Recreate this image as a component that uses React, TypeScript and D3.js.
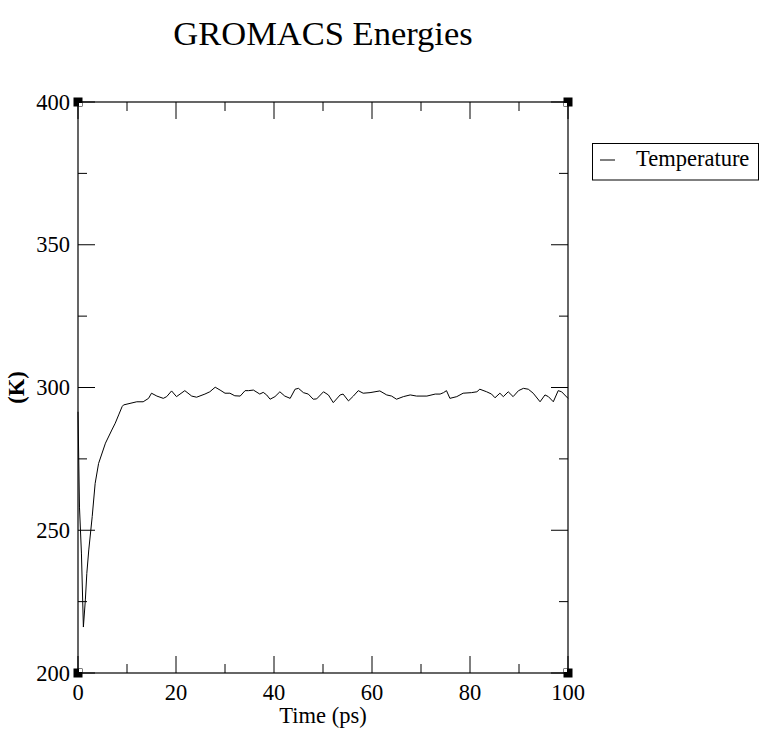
import React from "react";
import * as d3 from "d3";

const times = [
  0, 0.3, 0.7, 1.1, 1.5, 1.8, 2.2, 2.9, 3.5, 4.2, 5.6, 6.9, 7.6, 8.3, 9.0, 9.3,
  12.0, 13.3, 14.4, 15.0, 16.1, 17.4, 18.1, 19.1, 20.1, 21.8, 23.2, 24.2, 25.9,
  26.9, 28.0, 29.0, 30.0, 31.0, 32.0, 33.1, 34.1, 34.8, 35.8, 37.1, 37.8, 38.5,
  39.2, 40.2, 41.2, 42.2, 43.3, 44.3, 45.0, 46.0, 47.0, 48.0, 48.7, 50.1, 51.1,
  52.1, 53.5, 54.1, 55.2, 56.2, 57.2, 58.2, 59.6, 61.6, 63.0, 64.0, 65.0, 66.4,
  67.8, 69.1, 71.2, 72.9, 73.9, 74.6, 75.2, 75.9, 77.3, 78.6, 80.3, 81.4, 82.0,
  83.4, 84.4, 85.1, 86.1, 86.8, 87.8, 88.8, 89.9, 90.9, 91.9, 92.9, 94.3, 95.3,
  96.0, 97.0, 98.0, 98.7, 100,
];

const temperature = [
  291.5, 258.1, 242.0, 216.1, 225.6, 234.9, 243.1, 254.8, 266.4, 273.4, 280.5,
  285.1, 287.5, 290.4, 293.3, 293.9, 295.0, 295.0, 296.2, 298.0, 297.0, 296.2,
  296.8, 298.8, 296.8, 298.9, 297.0, 296.6, 297.7, 298.5, 300.1, 299.1, 298.0,
  298.0, 297.1, 297.0, 298.9, 298.9, 299.1, 297.7, 298.3, 297.4, 295.9, 296.8,
  298.5, 297.0, 296.2, 299.4, 299.7, 298.2, 297.7, 295.9, 296.0, 298.5, 297.4,
  294.7, 297.4, 297.7, 295.3, 297.0, 298.9, 298.0, 298.2, 298.8, 297.4, 297.0,
  295.9, 296.8, 297.4, 297.0, 297.0, 297.7, 297.7, 298.2, 298.9, 296.2, 296.8,
  298.0, 298.2, 298.5, 299.4, 298.5, 297.7, 296.4, 298.0, 296.8, 298.5, 296.8,
  298.9, 299.7, 299.4, 298.0, 295.0, 297.4, 296.8, 295.0, 298.9, 298.5, 296.2,
];

const xMajorTicks = [0, 20, 40, 60, 80, 100];
const xMinorTicks = [10, 30, 50, 70, 90];
const yMajorTicks = [200, 250, 300, 350, 400];
const yMinorTicks = [225, 275, 325, 375];

const title = "GROMACS Energies";
const xLabel = "Time (ps)";
const yLabel = "(K)";
const seriesName = "Temperature";

const FONT = "'Liberation Serif', 'Times New Roman', serif";

export default function App() {
  const left = 78, right = 568, top = 102, bottom = 673;
  const x = d3.scaleLinear().domain([0, 100]).range([left, right]);
  const y = d3.scaleLinear().domain([200, 400]).range([bottom, top]);
  const pts = times.map((t, i) => [t, temperature[i]] as [number, number]);
  const line = d3
    .line<[number, number]>()
    .x((d) => x(d[0]))
    .y((d) => y(d[1]));

  const majorLen = 17;
  const minorLen = 9;

  const corners = [
    [left, top, 1, 1],
    [right, top, -1, 1],
    [left, bottom, 1, -1],
    [right, bottom, -1, -1],
  ];

  return (
    <svg
      width={770}
      height={736}
      style={{ position: "absolute", left: 0, top: 0, background: "#fff" }}
      fontFamily={FONT}
    >
      <rect x={0} y={0} width={770} height={736} fill="#fff" />
      <text x={323} y={45} textAnchor="middle" fontSize={34.5}>
        {title}
      </text>

      {/* frame */}
      <rect
        x={left}
        y={top}
        width={right - left}
        height={bottom - top}
        fill="none"
        stroke="#000"
        strokeWidth={1.2}
      />

      {/* x ticks */}
      {xMajorTicks.map((v) => (
        <g key={"xM" + v}>
          <line x1={x(v)} x2={x(v)} y1={bottom} y2={bottom - majorLen} stroke="#000" />
          <line x1={x(v)} x2={x(v)} y1={top} y2={top + majorLen} stroke="#000" />
          <text x={x(v)} y={700} textAnchor="middle" fontSize={22.5}>
            {v}
          </text>
        </g>
      ))}
      {xMinorTicks.map((v) => (
        <g key={"xm" + v}>
          <line x1={x(v)} x2={x(v)} y1={bottom} y2={bottom - minorLen} stroke="#000" />
          <line x1={x(v)} x2={x(v)} y1={top} y2={top + minorLen} stroke="#000" />
        </g>
      ))}

      {/* y ticks */}
      {yMajorTicks.map((v) => (
        <g key={"yM" + v}>
          <line x1={left} x2={left + majorLen} y1={y(v)} y2={y(v)} stroke="#000" />
          <line x1={right} x2={right - majorLen} y1={y(v)} y2={y(v)} stroke="#000" />
          <text x={70} y={y(v) + 7.5} textAnchor="end" fontSize={22.5}>
            {v}
          </text>
        </g>
      ))}
      {yMinorTicks.map((v) => (
        <g key={"ym" + v}>
          <line x1={left} x2={left + minorLen} y1={y(v)} y2={y(v)} stroke="#000" />
          <line x1={right} x2={right - minorLen} y1={y(v)} y2={y(v)} stroke="#000" />
        </g>
      ))}

      {/* corner markers */}
      {corners.map(([cx, cy, dx, dy], i) => (
        <g key={"c" + i}>
          <rect x={cx - 4.5} y={cy - 4.5} width={9} height={9} fill="#000" />
          <rect
            x={dx > 0 ? cx + 1 : cx - 4}
            y={dy > 0 ? cy + 1 : cy - 4}
            width={3}
            height={3}
            fill="#fff"
          />
        </g>
      ))}

      {/* data line */}
      <path d={line(pts) || ""} fill="none" stroke="#000" strokeWidth={1} />

      {/* axis labels */}
      <text x={323} y={723} textAnchor="middle" fontSize={22.5}>
        {xLabel}
      </text>
      <text
        transform={`translate(24, ${(top + bottom) / 2}) rotate(-90)`}
        textAnchor="middle"
        fontSize={22.5}
        fontWeight="bold"
      >
        {yLabel}
      </text>

      {/* legend */}
      <rect x={592.5} y={143.5} width={166} height={36.5} fill="#fff" stroke="#000" strokeWidth={1} />
      <line x1={600} x2={615} y1={160} y2={160} stroke="#000" strokeWidth={1} />
      <text x={636} y={166} fontSize={22.5}>
        {seriesName}
      </text>
    </svg>
  );
}
